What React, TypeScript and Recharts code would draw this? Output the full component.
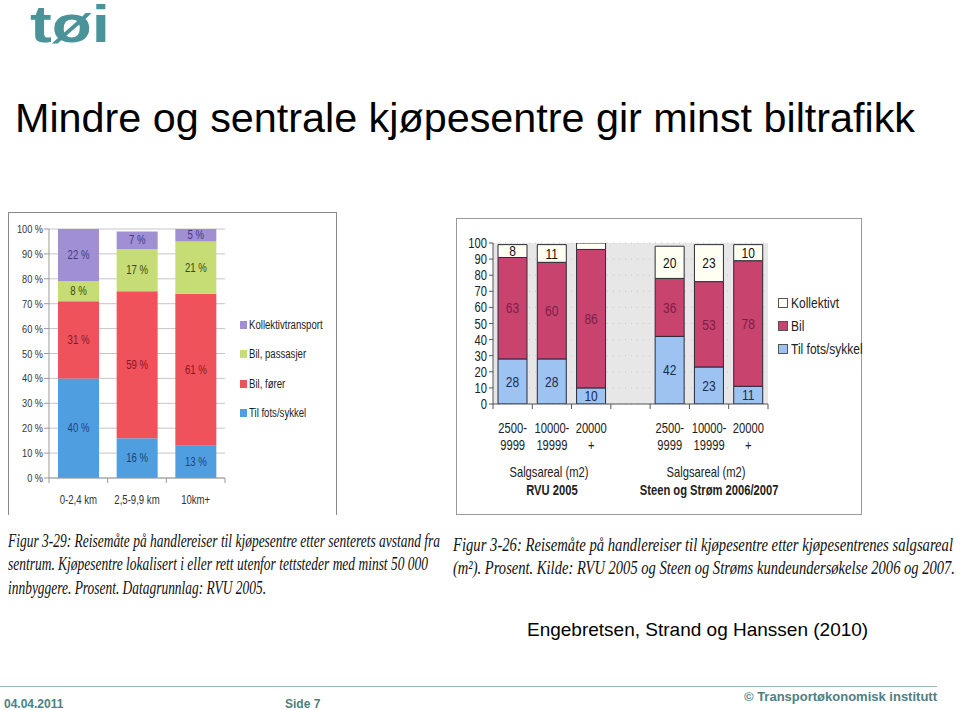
import React from 'react';
import { BarChart, Bar, XAxis, YAxis, CartesianGrid, LabelList, Legend } from 'recharts';

// ---------- Left chart data (Figur 3-29) ----------
const leftCategories = ['0-2,4 km', '2,5-9,9 km', '10km+'];
const leftFots = [40, 16, 13];
const leftForer = [31, 59, 61];
const leftPassasjer = [8, 17, 21];
const leftKollektiv = [22, 7, 5];
const leftYTicks = [0, 10, 20, 30, 40, 50, 60, 70, 80, 90, 100];
const leftLegendNames = ['Kollektivtransport', 'Bil, passasjer', 'Bil, fører', 'Til fots/sykkel'];
const leftLegendColors = ['#a08fd2', '#c6dc74', '#f0525b', '#4f9fe0'];
const leftLabelColors = ['#453683', '#3c4a12', '#8c1420', '#1d3f78'];

// ---------- Right chart data (Figur 3-26) ----------
const rightKeys = ['r1', 'r2', 'r3', 'gap', 's1', 's2', 's3'];
const rightTickLine1 = ['2500-', '10000-', '20000', '', '2500-', '10000-', '20000'];
const rightTickLine2 = ['9999', '19999', '+', '', '9999', '19999', '+'];
const rightFots = [28, 28, 10, null, 42, 23, 11];
const rightBil = [63, 60, 86, null, 36, 53, 78];
const rightKollektiv = [8, 11, 4, null, 20, 23, 10];
const rightKollektivLabels = ['8', '11', '', '', '20', '23', '10'];
const rightYTicks = [0, 10, 20, 30, 40, 50, 60, 70, 80, 90, 100];
const rightGroupTitles = ['Salgsareal (m2)', 'Salgsareal (m2)'];
const rightGroupSources = ['RVU 2005', 'Steen og Strøm 2006/2007'];
const rightGroupIndex = [1, 5];
const rightLegendNames = ['Kollektivt', 'Bil', 'Til fots/sykkel'];
const rightLegendColors = ['#fffff2', '#c9436f', '#9cc3f1'];
const rightLabelColors = ['#111111', '#7a1f48', '#1e2c4c'];

const leftData = leftCategories.map((c, i) => ({
  cat: c,
  fots: leftFots[i],
  forer: leftForer[i],
  passasjer: leftPassasjer[i],
  kollektiv: leftKollektiv[i],
}));

const rightData = rightKeys.map((k, i) => ({
  key: k,
  fots: rightFots[i],
  bil: rightBil[i],
  kollektiv: rightKollektiv[i],
  kLabel: rightKollektivLabels[i],
}));

const ARIAL = '"Liberation Sans", Arial, sans-serif';
const SERIF = '"Liberation Serif", "DejaVu Serif", serif';
const TEAL = '#4d7f84';
const SX = 0.8;

const pct = (v: any) => `${v} %`;

const NText = ({ x, y, anchor = 'middle', size, fill = '#222', weight = 'normal', children }: any) => (
  <text
    transform={`translate(${x},${y}) scale(${SX},1)`}
    x={0}
    y={0}
    textAnchor={anchor}
    fontSize={size}
    fill={fill}
    fontWeight={weight}
    fontFamily={ARIAL}
  >
    {children}
  </text>
);

const LeftTick = (props: any) => {
  const { x, y, payload, index, visibleTicksCount } = props;
  const half = payload && payload.offset ? payload.offset : 29;
  return (
    <g>
      <line x1={x - half} x2={x - half} y1={y} y2={y + 5} stroke="#9a9a9a" />
      {index === visibleTicksCount - 1 && (
        <line x1={x + half} x2={x + half} y1={y} y2={y + 5} stroke="#9a9a9a" />
      )}
      <NText x={x} y={y + 26} size={12} fill="#333">
        {payload.value}
      </NText>
    </g>
  );
};

const LeftYTick = (props: any) => {
  const { x, y, payload } = props;
  return (
    <NText x={x + 1} y={y + 4} anchor="end" size={11.5} fill="#333">
      {pct(payload.value)}
    </NText>
  );
};

const RightYTick = (props: any) => {
  const { x, y, payload } = props;
  return (
    <NText x={x} y={y + 5} anchor="end" size={14} fill="#222">
      {payload.value}
    </NText>
  );
};

const RightTick = (props: any) => {
  const { x, y, payload, index, visibleTicksCount } = props;
  const half = payload && payload.offset ? payload.offset : 19.6;
  const g = rightGroupIndex.indexOf(index);
  return (
    <g>
      <line x1={x - half} x2={x - half} y1={y} y2={y + 5} stroke="#555" />
      {index === visibleTicksCount - 1 && (
        <line x1={x + half} x2={x + half} y1={y} y2={y + 5} stroke="#555" />
      )}
      <NText x={x} y={y + 29} size={14}>
        {rightTickLine1[index]}
      </NText>
      <NText x={x} y={y + 46} size={14}>
        {rightTickLine2[index]}
      </NText>
      {g >= 0 && (
        <>
          <NText x={x - 3} y={y + 73} size={14}>
            {rightGroupTitles[g]}
          </NText>
          <NText x={x} y={y + 91} size={14} weight="bold">
            {rightGroupSources[g]}
          </NText>
        </>
      )}
    </g>
  );
};

const makeLabel = (fill: string, size: number, fmt?: (v: any) => string) => (p: any) => {
  const vb = p.viewBox || p;
  const v = p.value;
  if (v === null || v === undefined || v === '') return null;
  const x = (vb.x ?? p.x) + (vb.width ?? p.width) / 2;
  const y = (vb.y ?? p.y) + (vb.height ?? p.height) / 2 + size * 0.35;
  return (
    <NText x={x} y={y} size={size} fill={fill}>
      {fmt ? fmt(v) : String(v)}
    </NText>
  );
};

const LeftLegendContent = () => (
  <div style={{ fontFamily: ARIAL, fontSize: 12, color: '#222' }}>
    {leftLegendNames.map((n, i) => (
      <div key={n} style={{ display: 'flex', alignItems: 'center', height: 29.5, whiteSpace: 'nowrap' }}>
        <span style={{ width: 7, height: 8, background: leftLegendColors[i], marginRight: 2, display: 'inline-block', flex: 'none' }} />
        <span style={{ display: 'inline-block', transform: `scaleX(${SX})`, transformOrigin: 'left center' }}>{n}</span>
      </div>
    ))}
  </div>
);

const RightLegendContent = () => (
  <div style={{ fontFamily: ARIAL, fontSize: 15, color: '#222' }}>
    {rightLegendNames.map((n, i) => (
      <div key={n} style={{ display: 'flex', alignItems: 'center', height: 23, whiteSpace: 'nowrap' }}>
        <span
          style={{
            width: 8,
            height: 8,
            background: rightLegendColors[i],
            border: '1px solid #555',
            marginRight: 3,
            display: 'inline-block',
            flex: 'none',
          }}
        />
        <span style={{ display: 'inline-block', transform: `scaleX(${SX})`, transformOrigin: 'left center' }}>{n}</span>
      </div>
    ))}
  </div>
);

const CaptionLine = ({ x, y, len, text }: { x: number; y: number; len: number; text: string }) => (
  <text
    x={x}
    y={y}
    textLength={len}
    lengthAdjust="spacingAndGlyphs"
    fontFamily={SERIF}
    fontStyle="italic"
    fontSize={19}
    fill="#111"
  >
    {text}
  </text>
);

export default function App() {
  return (
    <div
      style={{
        position: 'absolute',
        left: 0,
        top: 0,
        width: 960,
        height: 710,
        background: '#fff',
        overflow: 'hidden',
      }}
    >
      {/* Logo */}
      <svg style={{ position: 'absolute', left: 0, top: 0 }} width={140} height={60}>
        <text x={30} y={42} fontFamily={ARIAL} fontWeight="bold" fontSize={52} fill="#4a9398" textLength={80} lengthAdjust="spacingAndGlyphs">
          tøi
        </text>
      </svg>

      {/* Title */}
      <svg style={{ position: 'absolute', left: 0, top: 90 }} width={960} height={60}>
        <text x={15} y={42} fontFamily={ARIAL} fontSize={40} fill="#000" textLength={900} lengthAdjust="spacingAndGlyphs">
          Mindre og sentrale kjøpesentre gir minst biltrafikk
        </text>
      </svg>

      {/* Left chart frame */}
      <div
        style={{
          position: 'absolute',
          left: 8,
          top: 212,
          width: 329,
          height: 303,
          borderLeft: '1px solid #8a8a8a',
          borderTop: '1px solid #8a8a8a',
          borderRight: '1px solid #8a8a8a',
          boxSizing: 'border-box',
        }}
      />
      <div style={{ position: 'absolute', left: 8, top: 212 }}>
        <BarChart width={330} height={303} data={leftData} margin={{ top: 17, right: 113, bottom: 8, left: 0 }} barSize={41}>
          <CartesianGrid vertical={false} stroke="#c6c6c6" />
          <XAxis
            dataKey="cat"
            height={29}
            interval={0}
            axisLine={{ stroke: '#9a9a9a' }}
            tickLine={false}
            tickSize={0}
            tickMargin={0}
            tick={<LeftTick />}
          />
          <YAxis
            width={41}
            domain={[0, 100]}
            ticks={leftYTicks}
            interval={0}
            allowDataOverflow
            axisLine={{ stroke: '#9a9a9a' }}
            tickLine={{ stroke: '#9a9a9a' }}
            tickSize={5}
            tickMargin={2}
            tick={<LeftYTick />}
          />
          <Legend
            layout="horizontal"
            verticalAlign="middle"
            align="center"
            wrapperStyle={{ left: 232, top: 98, width: 100 }}
            content={<LeftLegendContent />}
          />
          <Bar dataKey="fots" stackId="a" fill={leftLegendColors[3]} isAnimationActive={false}>
            <LabelList dataKey="fots" content={makeLabel(leftLabelColors[3], 12, pct)} />
          </Bar>
          <Bar dataKey="forer" stackId="a" fill={leftLegendColors[2]} isAnimationActive={false}>
            <LabelList dataKey="forer" content={makeLabel(leftLabelColors[2], 12, pct)} />
          </Bar>
          <Bar dataKey="passasjer" stackId="a" fill={leftLegendColors[1]} isAnimationActive={false}>
            <LabelList dataKey="passasjer" content={makeLabel(leftLabelColors[1], 12, pct)} />
          </Bar>
          <Bar dataKey="kollektiv" stackId="a" fill={leftLegendColors[0]} isAnimationActive={false}>
            <LabelList dataKey="kollektiv" content={makeLabel(leftLabelColors[0], 12, pct)} />
          </Bar>
        </BarChart>
      </div>

      {/* Right chart frame */}
      <div
        style={{
          position: 'absolute',
          left: 456,
          top: 218,
          width: 406,
          height: 297,
          border: '1px solid #9a9a9a',
          boxSizing: 'border-box',
        }}
      />
      <div style={{ position: 'absolute', left: 456, top: 218 }}>
        <BarChart width={406} height={297} data={rightData} margin={{ top: 25, right: 94, bottom: 11, left: 0 }} barSize={29}>
          <CartesianGrid vertical={false} stroke="#c9c9c9" strokeDasharray="1 5" fill="#e7e7e7" fillOpacity={1} />
          <XAxis
            dataKey="key"
            height={100}
            interval={0}
            axisLine={{ stroke: '#555' }}
            tickLine={false}
            tickSize={0}
            tickMargin={0}
            tick={<RightTick />}
          />
          <YAxis
            width={37}
            domain={[0, 100]}
            ticks={rightYTicks}
            interval={0}
            allowDataOverflow
            axisLine={{ stroke: '#555' }}
            tickLine={{ stroke: '#555' }}
            tickSize={4}
            tickMargin={2}
            tick={<RightYTick />}
          />
          <Legend
            layout="horizontal"
            verticalAlign="middle"
            align="center"
            wrapperStyle={{ left: 322, top: 73, width: 100 }}
            content={<RightLegendContent />}
          />
          <Bar dataKey="fots" stackId="b" fill={rightLegendColors[2]} stroke="#2a2a3a" strokeWidth={1} isAnimationActive={false}>
            <LabelList dataKey="fots" content={makeLabel(rightLabelColors[2], 15)} />
          </Bar>
          <Bar dataKey="bil" stackId="b" fill={rightLegendColors[1]} stroke="#2a2a3a" strokeWidth={1} isAnimationActive={false}>
            <LabelList dataKey="bil" content={makeLabel(rightLabelColors[1], 15)} />
          </Bar>
          <Bar dataKey="kollektiv" stackId="b" fill={rightLegendColors[0]} stroke="#2a2a3a" strokeWidth={1} isAnimationActive={false}>
            <LabelList dataKey="kLabel" content={makeLabel(rightLabelColors[0], 15)} />
          </Bar>
        </BarChart>
      </div>

      {/* Captions */}
      <svg style={{ position: 'absolute', left: 0, top: 520 }} width={960} height={90}>
        <CaptionLine x={8} y={27} len={432} text="Figur 3-29: Reisemåte på handlereiser til kjøpesentre etter senterets avstand fra" />
        <CaptionLine x={8} y={50} len={420} text="sentrum. Kjøpesentre lokalisert i eller rett utenfor tettsteder med minst 50 000" />
        <CaptionLine x={8} y={74} len={258} text="innbyggere. Prosent. Datagrunnlag: RVU 2005." />
        <CaptionLine x={453} y={31} len={500} text="Figur 3-26: Reisemåte på handlereiser til kjøpesentre etter kjøpesentrenes salgsareal" />
        <CaptionLine x={453} y={54} len={502} text="(m²). Prosent. Kilde: RVU 2005 og Steen og Strøms kundeundersøkelse 2006 og 2007." />
      </svg>

      {/* Reference */}
      <div
        style={{
          position: 'absolute',
          left: 527,
          top: 618,
          fontFamily: ARIAL,
          fontSize: 19,
          color: '#000',
          whiteSpace: 'nowrap',
          lineHeight: '24px',
        }}
      >
        Engebretsen, Strand og Hanssen (2010)
      </div>

      {/* Footer */}
      <div style={{ position: 'absolute', left: 0, top: 686, width: 937, height: 1, background: '#9bb8b8' }} />
      <div style={{ position: 'absolute', left: 4, top: 697, fontFamily: ARIAL, fontWeight: 'bold', fontSize: 12, color: TEAL, lineHeight: '14px' }}>
        04.04.2011
      </div>
      <div style={{ position: 'absolute', left: 285, top: 697, fontFamily: ARIAL, fontWeight: 'bold', fontSize: 12, color: TEAL, lineHeight: '14px' }}>
        Side 7
      </div>
      <div
        style={{
          position: 'absolute',
          right: 23,
          top: 689,
          fontFamily: ARIAL,
          fontWeight: 'bold',
          fontSize: 13,
          color: TEAL,
          lineHeight: '16px',
          whiteSpace: 'nowrap',
        }}
      >
        © Transportøkonomisk institutt
      </div>
    </div>
  );
}
